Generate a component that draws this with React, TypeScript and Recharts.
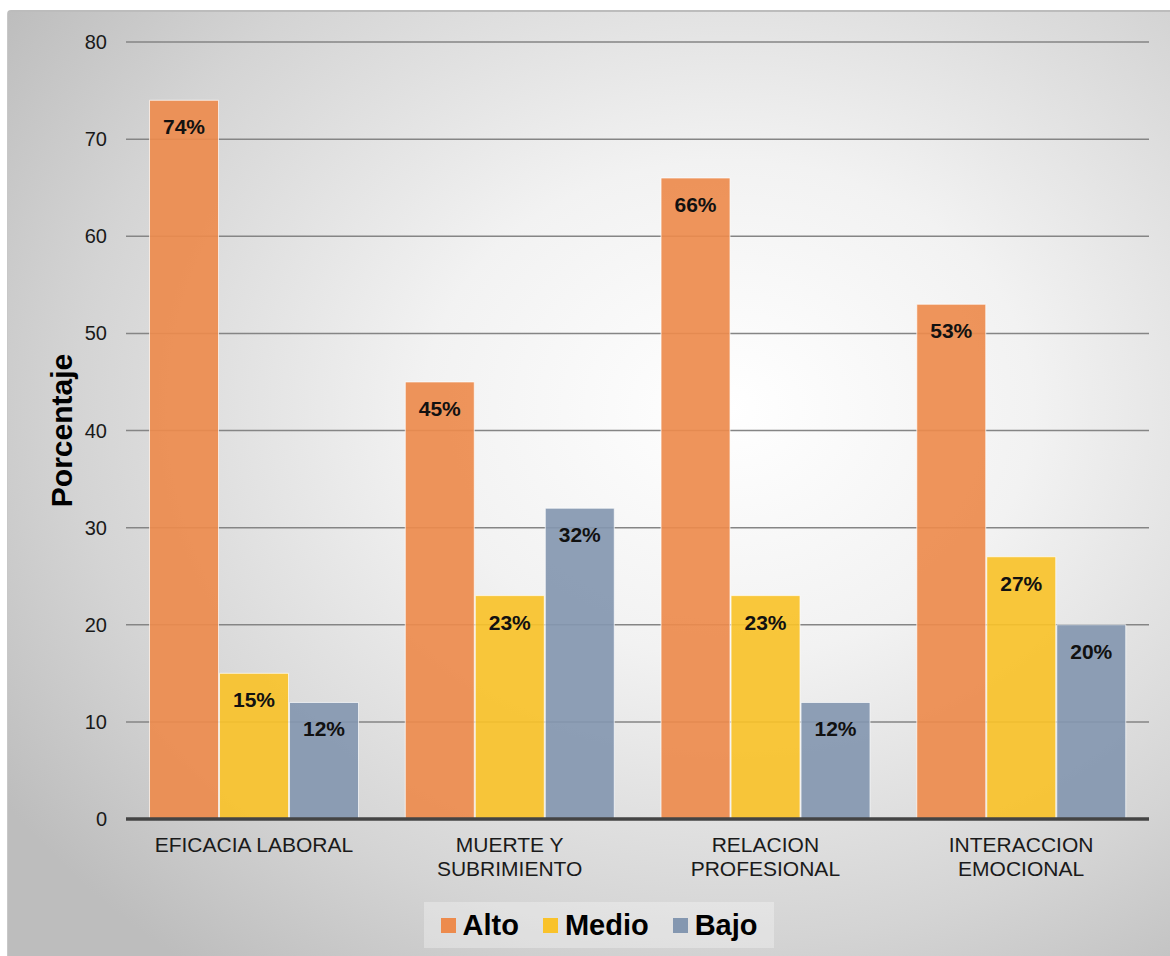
import React from 'react';
import { BarChart, Bar, XAxis, YAxis, CartesianGrid, Legend, LabelList } from 'recharts';

const categories = ['EFICACIA LABORAL', 'MUERTE Y\nSUBRIMIENTO', 'RELACION\nPROFESIONAL', 'INTERACCION\nEMOCIONAL'];
const alto = [74, 45, 66, 53];
const medio = [15, 23, 23, 27];
const bajo = [12, 32, 12, 20];
const yTicks = [0, 10, 20, 30, 40, 50, 60, 70, 80];

const series = [
    { key: 'alto', name: 'Alto', color: '#ED8B4D' },
    { key: 'medio', name: 'Medio', color: '#F9C22A' },
    { key: 'bajo', name: 'Bajo', color: '#8497B0' },
];

const data = categories.map((name, i) => ({
    name,
    alto: alto[i],
    medio: medio[i],
    bajo: bajo[i],
}));

const FONT = '"Liberation Sans", Arial, sans-serif';

const CategoryTick = (props: any) => {
    const { x, y, payload } = props;
    const lines = String(payload.value).split('\n');
    return (
        <text x={x} y={y} textAnchor="middle" fontSize={21} fill="#1a1a1a" fontFamily={FONT}>
            {lines.map((l, i) => (
                <tspan key={i} x={x} dy={i === 0 ? 25 : 24}>{l}</tspan>
            ))}
        </text>
    );
};

const LegendBox = (props: any) => {
    const order = series.map((s) => s.name);
    const payload = [...(props.payload || [])].sort(
        (a: any, b: any) => order.indexOf(a.value) - order.indexOf(b.value)
    );
    return (
        <div style={{
            display: 'flex', justifyContent: 'center', alignItems: 'center', gap: 24,
            background: 'rgba(255,255,255,0.3)', height: 46, fontFamily: FONT,
        }}>
            {payload.map((p: any) => (
                <div key={p.value} style={{ display: 'flex', alignItems: 'center', gap: 7 }}>
                    <span style={{ width: 15, height: 15, background: p.color, display: 'inline-block' }} />
                    <span style={{ fontSize: 29, fontWeight: 'bold', color: '#000' }}>{p.value}</span>
                </div>
            ))}
        </div>
    );
};

export default function App() {
    return (
        <div style={{
            position: 'absolute', left: 7, top: 10, width: 1163, height: 946,
            background: 'radial-gradient(ellipse 75% 75% at 62% 42%, #ffffff 0%, #f2f2f2 35%, #d4d4d4 75%, #bdbdbd 100%)',
            borderTop: '2px solid #bcbcbc', borderLeft: '1px solid #c8c8c8', borderTopLeftRadius: 4,
            boxSizing: 'border-box',
        }}>
            <BarChart
                width={1162}
                height={944}
                data={data}
                margin={{ top: 30, right: 21, bottom: 60, left: 0 }}
                barCategoryGap="9.2%"
                barGap={1}
            >
                <CartesianGrid vertical={false} stroke="#858585" strokeWidth={1.5} />
                <XAxis
                    dataKey="name"
                    height={77}
                    tick={<CategoryTick />}
                    tickLine={false}
                    axisLine={{ stroke: '#444', strokeWidth: 3.5 }}
                    interval={0}
                />
                <YAxis
                    domain={[0, 80]}
                    ticks={yTicks}
                    width={118}
                    axisLine={false}
                    tickLine={false}
                    tickMargin={13}
                    tick={{ fontSize: 20, fill: '#1a1a1a', fontFamily: FONT }}
                    label={{
                        value: 'Porcentaje', angle: -90, position: 'insideLeft', offset: 53,
                        style: { fontSize: 30, fontWeight: 'bold', fill: '#000', fontFamily: FONT, textAnchor: 'middle' },
                    }}
                />
                <Legend
                    layout="horizontal"
                    verticalAlign="middle"
                    align="center"
                    content={<LegendBox />}
                    wrapperStyle={{ top: 890, left: 416, width: 350 }}
                />
                {series.map((s) => (
                    <Bar
                        key={s.key}
                        dataKey={s.key}
                        name={s.name}
                        fill={s.color}
                        fillOpacity={0.92}
                        stroke="#fff"
                        strokeOpacity={0.7}
                        strokeWidth={1}
                        isAnimationActive={false}
                    >
                        <LabelList
                            dataKey={s.key}
                            position="insideTop"
                            offset={19}
                            formatter={(v: any) => `${v}%`}
                            style={{ fontSize: 21, fontWeight: 'bold', fill: '#111', fontFamily: FONT }}
                        />
                    </Bar>
                ))}
            </BarChart>
        </div>
    );
}
